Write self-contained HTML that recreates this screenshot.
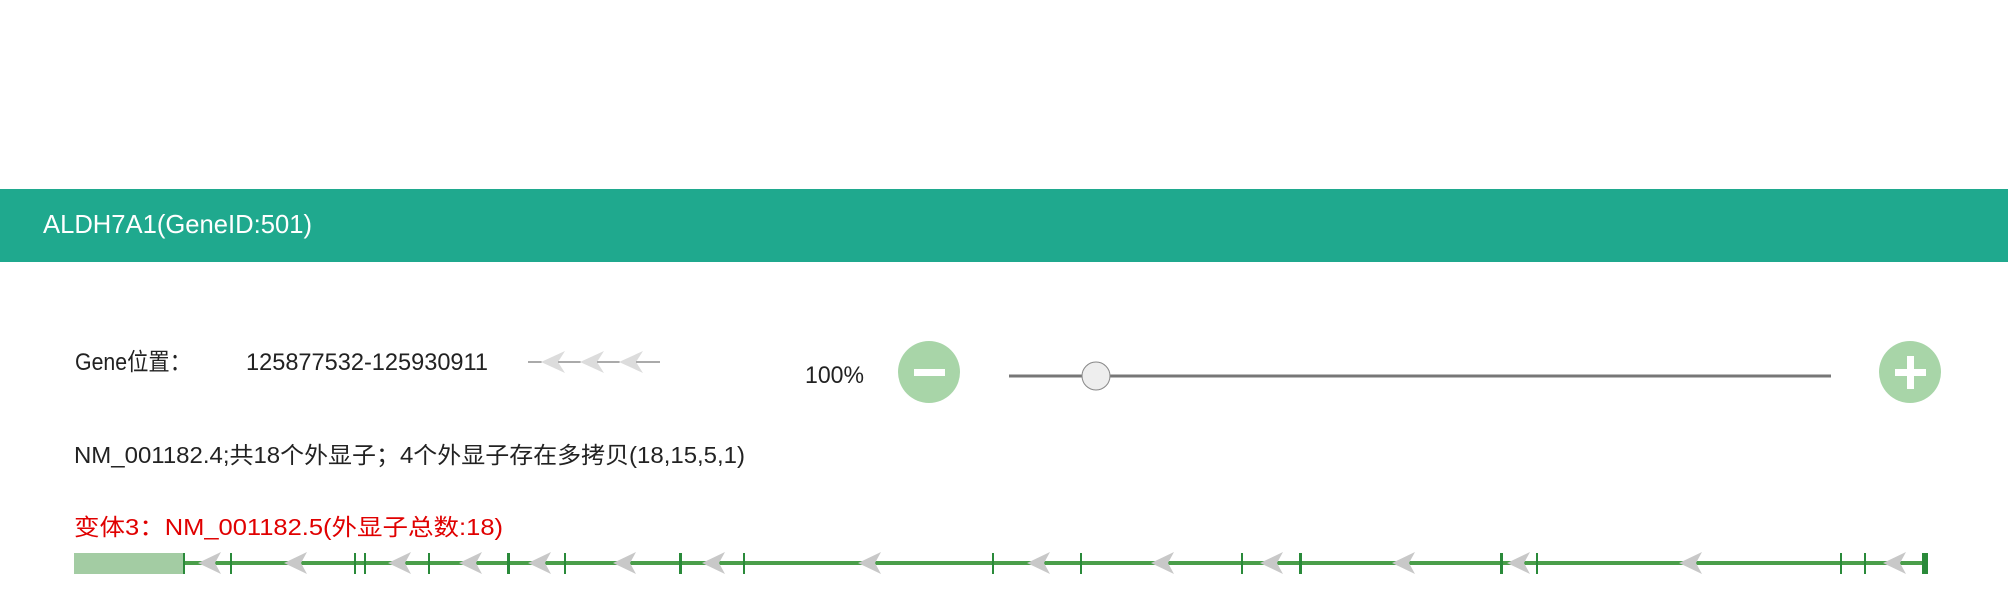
<!DOCTYPE html>
<html><head><meta charset="utf-8"><style>
html,body{margin:0;padding:0;background:#fff;width:2008px;height:608px;overflow:hidden}
svg{display:block}
text{font-family:"Liberation Sans","Noto Sans CJK SC",sans-serif}
</style></head><body>
<svg width="2008" height="608" viewBox="0 0 2008 608" xmlns="http://www.w3.org/2000/svg">
<defs>
<path id="ar" d="M0,0 L23,-11 L17,0 L23,11 Z" fill="#c8c8c8"/>
<path id="sa" d="M0,0 L24,-11 L17,0 L24,11 Z" fill="#dcdcdc"/>
</defs>
<rect x="0" y="189" width="2008" height="73" fill="#1fa98e"/>
<text x="43" y="233" font-size="26" fill="#fff" textLength="269" lengthAdjust="spacingAndGlyphs">ALDH7A1(GeneID:501)</text>

<text x="75" y="370" font-size="24" fill="#222" textLength="116" lengthAdjust="spacingAndGlyphs">Gene位置：</text>
<text x="246" y="370" font-size="24" fill="#222" textLength="242" lengthAdjust="spacingAndGlyphs">125877532-125930911</text>
<line x1="528" y1="362" x2="660" y2="362" stroke="#555" stroke-width="1"/>
<use href="#sa" x="541" y="362"/>
<use href="#sa" x="580" y="362"/>
<use href="#sa" x="619" y="362"/>

<text x="805" y="383" font-size="24" fill="#222" textLength="59" lengthAdjust="spacingAndGlyphs">100%</text>
<ellipse cx="929" cy="372" rx="31" ry="31" fill="#a8d5a8"/>
<rect x="914" y="369" width="31" height="7" fill="#fff"/>
<line x1="1009" y1="376" x2="1831" y2="376" stroke="#777" stroke-width="3"/>
<ellipse cx="1096" cy="376" rx="14" ry="14" fill="#eee" stroke="#888" stroke-width="1"/>
<ellipse cx="1910" cy="372" rx="31" ry="31" fill="#a8d5a8"/>
<rect x="1895" y="369" width="31" height="7" fill="#fff"/>
<rect x="1907" y="356" width="7" height="33" fill="#fff"/>

<text x="74" y="463" font-size="23" fill="#222" textLength="671" lengthAdjust="spacingAndGlyphs">NM_001182.4;共18个外显子；4个外显子存在多拷贝(18,15,5,1)</text>
<text x="74" y="535" font-size="23" fill="#e00000" textLength="429" lengthAdjust="spacingAndGlyphs">变体3：NM_001182.5(外显子总数:18)</text>

<rect x="74" y="553" width="110" height="21" fill="#a3cca3"/>
<line x1="184" y1="563" x2="1926" y2="563" stroke="#4a9e4a" stroke-width="4"/>
<g>
<use href="#ar" x="198" y="563"/><use href="#ar" x="284" y="563"/><use href="#ar" x="388" y="563"/>
<use href="#ar" x="459" y="563"/><use href="#ar" x="528" y="563"/><use href="#ar" x="613" y="563"/>
<use href="#ar" x="702" y="563"/><use href="#ar" x="858" y="563"/><use href="#ar" x="1027" y="563"/>
<use href="#ar" x="1151" y="563"/><use href="#ar" x="1260" y="563"/><use href="#ar" x="1392" y="563"/>
<use href="#ar" x="1507" y="563"/><use href="#ar" x="1679" y="563"/><use href="#ar" x="1883" y="563"/>
</g>
<g fill="#2a8a3a">
<rect x="183" y="553" width="2" height="21"/>
<rect x="230" y="553" width="2" height="21"/>
<rect x="354" y="553" width="2" height="21"/>
<rect x="364" y="553" width="2" height="21"/>
<rect x="428" y="553" width="2" height="21"/>
<rect x="507" y="553" width="3" height="21"/>
<rect x="564" y="553" width="2" height="21"/>
<rect x="679" y="553" width="3" height="21"/>
<rect x="743" y="553" width="2" height="21"/>
<rect x="992" y="553" width="2" height="21"/>
<rect x="1080" y="553" width="2" height="21"/>
<rect x="1241" y="553" width="2" height="21"/>
<rect x="1299" y="553" width="3" height="21"/>
<rect x="1500" y="553" width="3" height="21"/>
<rect x="1536" y="553" width="2" height="21"/>
<rect x="1840" y="553" width="2" height="21"/>
<rect x="1864" y="553" width="2" height="21"/>
<rect x="1922" y="553" width="6" height="21"/>
</g>
</svg>
</body></html>
